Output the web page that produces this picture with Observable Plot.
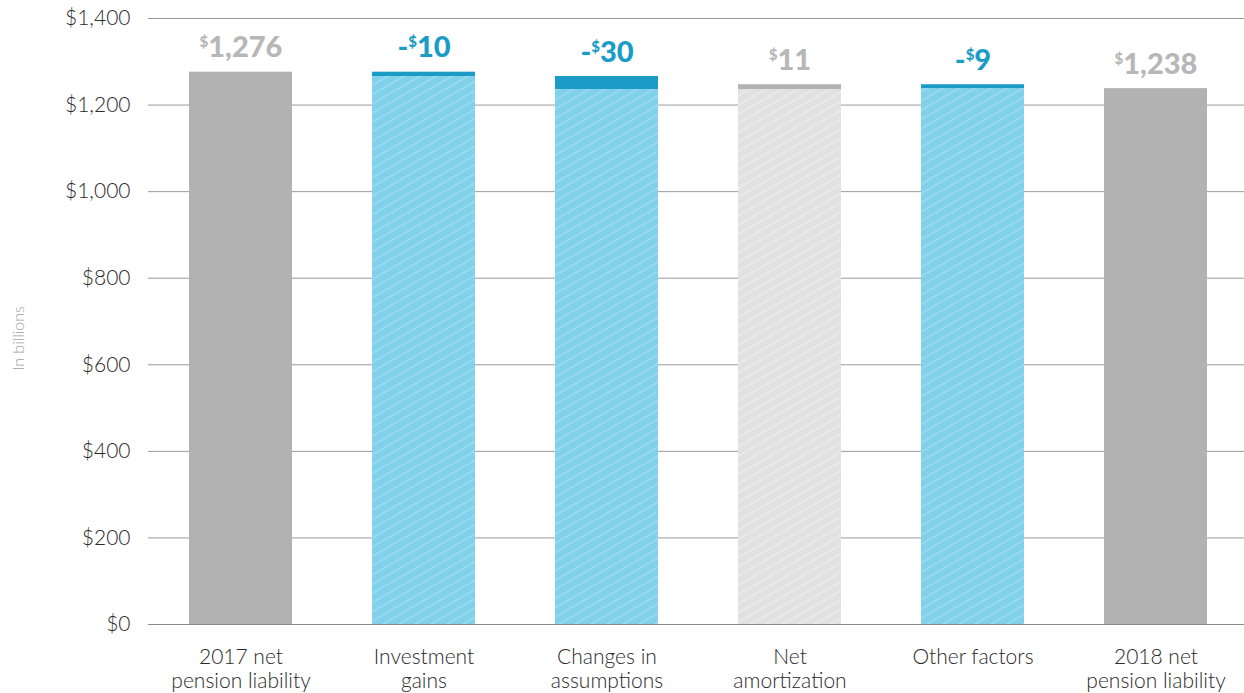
<!DOCTYPE html>
<html>
<head>
<meta charset="utf-8">
<script src="https://cdn.jsdelivr.net/npm/d3@7"></script>
<script src="https://cdn.jsdelivr.net/npm/@observablehq/plot@0.6"></script>
<style>
  html, body { margin: 0; padding: 0; background: #fff; }
  svg { display: block; font-family: Lato, "Open Sans", sans-serif; }
</style>
</head>
<body>
<div id="chart"></div>
<script>
const categories = ["2017 net\npension liability", "Investment\ngains", "Changes in\nassumptions", "Net\namortization", "Other factors", "2018 net\npension liability"];
const values = [1276, -10, -30, 11, -9, 1238];
const kinds = ["total", "change", "change", "change", "change", "total"];
const yTicks = [0, 200, 400, 600, 800, 1000, 1200, 1400];

// build waterfall rows
let running = 0;
const rows = categories.map((cat, i) => {
  const v = values[i];
  let low, high;
  if (kinds[i] === "total") { low = v; high = v; running = v; }
  else { const next = running + v; low = Math.min(running, next); high = Math.max(running, next); running = next; }
  const label = (v < 0 ? "-" : "") + "$" + d3.format(",")(Math.abs(v));
  return {cat, v, kind: kinds[i], low, high, label, neg: v < 0};
});

const BLUE_DARK = "#1b9cc7", GRAY = "#b1b2b1";

const chart = Plot.plot({
  width: 1244, height: 693,
  marginTop: 18, marginBottom: 69, marginLeft: 148, marginRight: 0,
  x: {domain: categories, range: [148, 1248], paddingInner: 0.438, paddingOuter: 0.22, label: null},
  y: {domain: [0, 1400], label: null},
  marks: [
    Plot.gridY(yTicks, {stroke: "#9a9a9a", strokeOpacity: 1}),
    Plot.barY(rows, {filter: d => d.kind === "total", x: "cat", y: "high", fill: GRAY}),
    Plot.barY(rows, {filter: d => d.kind === "change" && d.neg, x: "cat", y1: 0, y2: "low", fill: "url(#hatchBlue)"}),
    Plot.barY(rows, {filter: d => d.kind === "change" && !d.neg, x: "cat", y1: 0, y2: "low", fill: "url(#hatchGray)"}),
    Plot.barY(rows, {filter: d => d.kind === "change" && d.neg, x: "cat", y1: "low", y2: "high", fill: BLUE_DARK}),
    Plot.barY(rows, {filter: d => d.kind === "change" && !d.neg, x: "cat", y1: "low", y2: "high", fill: GRAY}),
    Plot.ruleY([0], {stroke: "#8a8a8a"}),
    Plot.text(rows, {x: "cat", y: "high", text: "label", className: "vlabel", lineAnchor: "bottom", dy: -15,
      fontSize: 29, fontWeight: 900, fill: d => d.neg ? BLUE_DARK : "#b7b7b7"}),
    Plot.axisY(yTicks, {tickSize: 0, tickPadding: 18, fontSize: 21, fontWeight: 300, fill: "#2a2a2a",
      tickFormat: d => "$" + d3.format(",")(d), label: null}),
    Plot.axisX({tickSize: 0, tickPadding: 23, fontSize: 21, fontWeight: 300, lineHeight: 1.12, fill: "#2a2a2a", label: null}),
    Plot.text(["In billions"], {frameAnchor: "left", textAnchor: "middle", rotate: -90, dx: -130, dy: 17, fontSize: 16, fontWeight: 300, fill: "#a0a0a0"})
  ]
});

// fill colours are constant strings; the patterns live in this svg
const ns = "http://www.w3.org/2000/svg";
const defs = document.createElementNS(ns, "defs");
function hatch(id, bg, line, op) {
  const p = document.createElementNS(ns, "pattern");
  p.setAttribute("id", id);
  p.setAttribute("patternUnits", "userSpaceOnUse");
  p.setAttribute("width", 10); p.setAttribute("height", 8);
  p.setAttribute("patternTransform", "rotate(-30)");
  const r = document.createElementNS(ns, "rect");
  r.setAttribute("width", 10); r.setAttribute("height", 8); r.setAttribute("fill", bg);
  const l = document.createElementNS(ns, "line");
  l.setAttribute("x1", 0); l.setAttribute("x2", 10); l.setAttribute("y1", 4); l.setAttribute("y2", 4);
  l.setAttribute("stroke", line); l.setAttribute("stroke-opacity", op); l.setAttribute("stroke-width", 1.2);
  p.appendChild(r); p.appendChild(l);
  defs.appendChild(p);
}
hatch("hatchBlue", "#80d1ea", "#ffffff", 0.3);
hatch("hatchGray", "#e1e1e1", "#ffffff", 0.45);
chart.insertBefore(defs, chart.firstChild);

// superscript dollar sign in value labels
d3.select(chart).selectAll(".vlabel text").each(function() {
  const t = this.textContent;
  const i = t.indexOf("$");
  if (i < 0) return;
  const sel = d3.select(this);
  sel.text(null);
  if (i > 0) sel.append("tspan").text(t.slice(0, i));
  sel.append("tspan").attr("font-size", 15).attr("dy", -10).text("$");
  sel.append("tspan").attr("dy", 10).text(t.slice(i + 1));
});

document.getElementById("chart").appendChild(chart);
</script>
</body>
</html>
